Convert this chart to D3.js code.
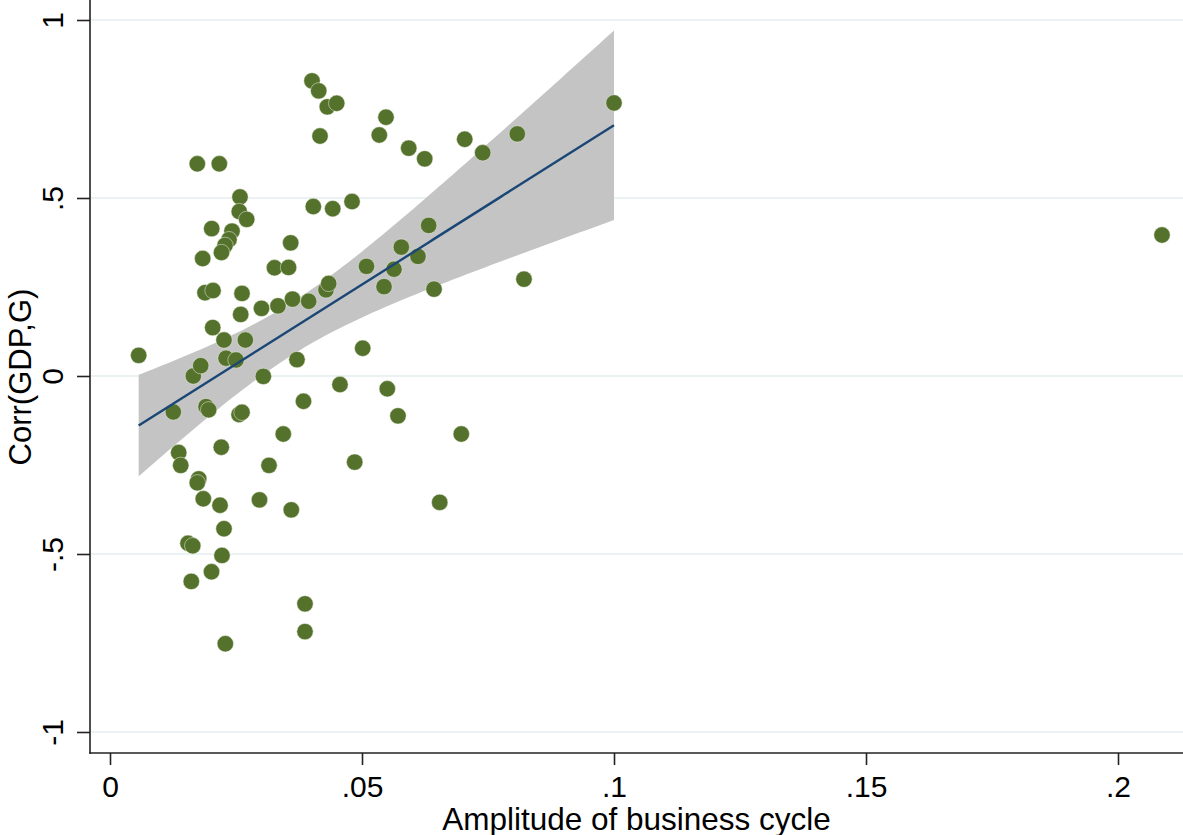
<!DOCTYPE html>
<html>
<head>
<meta charset="utf-8">
<script src="https://cdn.jsdelivr.net/npm/d3@7"></script>
<style>
  html, body { margin: 0; padding: 0; background: #ffffff; }
  svg { display: block; font-family: "Liberation Sans", Arial, Helvetica, sans-serif; }
</style>
</head>
<body>
<svg id="chart" width="1183" height="835"></svg>
<script>
// Amplitude of the business cycle per country
const amplitude = [
  0.00569, 0.01256, 0.01363, 0.01403, 0.01653, 0.01800, 0.01732, 0.02169, 0.01839, 0.01885,
  0.02044, 0.02018, 0.02038, 0.01905, 0.01958, 0.01760, 0.01732, 0.01851, 0.01548, 0.01641,
  0.01613, 0.02014, 0.02183, 0.02262, 0.02222, 0.02288, 0.02208, 0.02262, 0.02302, 0.02500,
  0.02579, 0.02565, 0.02712, 0.02421, 0.02361, 0.02282, 0.02212, 0.02619, 0.02593, 0.02685,
  0.02560, 0.02619, 0.03006, 0.03042, 0.02966, 0.03155, 0.03264, 0.03333, 0.03542, 0.03585,
  0.03621, 0.03710, 0.03438, 0.03597, 0.03839, 0.03869, 0.03869, 0.03942, 0.04008, 0.04141,
  0.04167, 0.04312, 0.04498, 0.04034, 0.04419, 0.04286, 0.04339, 0.04563, 0.04802, 0.04855,
  0.05014, 0.05089, 0.05343, 0.05476, 0.05437, 0.05502, 0.05635, 0.05780, 0.05714, 0.05927,
  0.06111, 0.06244, 0.06323, 0.06429, 0.06542, 0.06970, 0.07038, 0.07395, 0.08081, 0.08214,
  0.10000, 0.20873
];

// Correlation between GDP and government spending per country
const corrGdpG = [
   0.058, -0.101, -0.215, -0.251,  0.000,  0.029,  0.596,  0.596,  0.330,  0.234,
   0.240,  0.414,  0.136, -0.086, -0.095, -0.289, -0.300, -0.345, -0.470, -0.477,
  -0.577, -0.550, -0.363, -0.429, -0.504, -0.752, -0.200,  0.101,  0.050,  0.045,
   0.503,  0.462,  0.440,  0.407,  0.383,  0.367,  0.347,  0.232,  0.173,  0.101,
  -0.108, -0.102,  0.190, -0.001, -0.348, -0.251,  0.304,  0.197,  0.305,  0.374,
   0.216,  0.046, -0.163, -0.376, -0.071, -0.640, -0.718,  0.210,  0.829,  0.801,
   0.674,  0.756,  0.766,  0.476,  0.470,  0.242,  0.260, -0.024,  0.490, -0.242,
   0.078,  0.308,  0.677,  0.727,  0.251, -0.036,  0.300,  0.362, -0.112,  0.640,
   0.336,  0.610,  0.423,  0.244, -0.355, -0.163,  0.665,  0.627,  0.680,  0.272,
   0.767,  0.396
];

const xTicks = [0, 0.05, 0.1, 0.15, 0.2];
const xTickLabels = ["0", ".05", ".1", ".15", ".2"];
const yTicks = [-1, -0.5, 0, 0.5, 1];
const yTickLabels = ["-1", "-.5", "0", ".5", "1"];

// The fitted line and its 95% band use the observations below this amplitude
const fitCutoff = 0.15;
const tCrit = 1.987;

const svg = d3.select("#chart");
const W = 1183, H = 835;
const axisLeft = 90, axisBottom = 753;

const x = d3.scaleLinear().domain([0, 0.2]).range([110, 1118]);
const y = d3.scaleLinear().domain([-1, 1]).range([732, 20]);

// Horizontal grid lines
svg.append("g")
  .selectAll("line")
  .data(yTicks)
  .join("line")
  .attr("x1", axisLeft).attr("x2", W)
  .attr("y1", d => y(d)).attr("y2", d => y(d))
  .attr("stroke", "#eaf2f3")
  .attr("stroke-width", 2);

// Linear fit with confidence interval for the mean prediction
const pts = amplitude.map((a, i) => ({ a, c: corrGdpG[i] }));
const fitPts = pts.filter(p => p.a < fitCutoff);
const n = fitPts.length;
const mx = d3.mean(fitPts, p => p.a);
const my = d3.mean(fitPts, p => p.c);
const sxx = d3.sum(fitPts, p => (p.a - mx) ** 2);
const sxy = d3.sum(fitPts, p => (p.a - mx) * (p.c - my));
const slope = sxy / sxx;
const intercept = my - slope * mx;
const rss = d3.sum(fitPts, p => (p.c - intercept - slope * p.a) ** 2);
const s = Math.sqrt(rss / (n - 2));
const [xmin, xmax] = d3.extent(fitPts, p => p.a);
const grid = d3.range(0, 101).map(k => xmin + (xmax - xmin) * k / 100);
const band = grid.map(g => {
  const yhat = intercept + slope * g;
  const se = s * Math.sqrt(1 / n + (g - mx) ** 2 / sxx);
  return { g, yhat, lo: yhat - tCrit * se, hi: yhat + tCrit * se };
});

svg.append("path")
  .datum(band)
  .attr("d", d3.area().x(d => x(d.g)).y0(d => y(d.lo)).y1(d => y(d.hi)))
  .attr("fill", "#c4c4c4");

// Scatter of countries
svg.append("g")
  .selectAll("circle")
  .data(pts)
  .join("circle")
  .attr("cx", d => x(d.a))
  .attr("cy", d => y(d.c))
  .attr("r", 8.2)
  .attr("fill", "#55722d")
  .attr("stroke", "#eef2e6")
  .attr("stroke-width", 0.5);

svg.append("path")
  .datum(band)
  .attr("d", d3.line().x(d => x(d.g)).y(d => y(d.yhat)))
  .attr("fill", "none")
  .attr("stroke", "#1a4775")
  .attr("stroke-width", 2.4);

// Axes
const yAxis = svg.append("g")
  .attr("transform", `translate(${axisLeft},0)`)
  .call(d3.axisLeft(y).tickValues(yTicks).tickFormat((d, i) => yTickLabels[i]).tickSize(13).tickPadding(0));
yAxis.select(".domain").remove();
yAxis.selectAll(".tick line").attr("stroke", "#222").attr("stroke-width", 1.6);
yAxis.selectAll(".tick text")
  .attr("transform", "rotate(-90)")
  .attr("x", 0).attr("y", -27).attr("dy", 0)
  .attr("text-anchor", "middle")
  .attr("font-size", 30)
  .attr("fill", "#000");

const xAxis = svg.append("g")
  .attr("transform", `translate(0,${axisBottom})`)
  .call(d3.axisBottom(x).tickValues(xTicks).tickFormat((d, i) => xTickLabels[i]).tickSize(12).tickPadding(0));
xAxis.select(".domain").remove();
xAxis.selectAll(".tick line").attr("stroke", "#222").attr("stroke-width", 1.6);
xAxis.selectAll(".tick text")
  .attr("y", 44).attr("dy", 0)
  .attr("font-size", 30)
  .attr("fill", "#000");

// Axis lines
svg.append("line")
  .attr("x1", axisLeft).attr("x2", axisLeft)
  .attr("y1", 0).attr("y2", axisBottom + 0.8)
  .attr("stroke", "#222").attr("stroke-width", 1.6);
svg.append("line")
  .attr("x1", axisLeft - 0.8).attr("x2", W)
  .attr("y1", axisBottom).attr("y2", axisBottom)
  .attr("stroke", "#222").attr("stroke-width", 1.6);

// Axis titles
svg.append("text")
  .attr("x", 636.5).attr("y", 830)
  .attr("text-anchor", "middle")
  .attr("font-size", 31.5)
  .attr("fill", "#000")
  .text("Amplitude of business cycle");

svg.append("text")
  .attr("transform", "translate(31,377) rotate(-90)")
  .attr("text-anchor", "middle")
  .attr("font-size", 31)
  .attr("fill", "#000")
  .text("Corr(GDP,G)");
</script>
</body>
</html>
